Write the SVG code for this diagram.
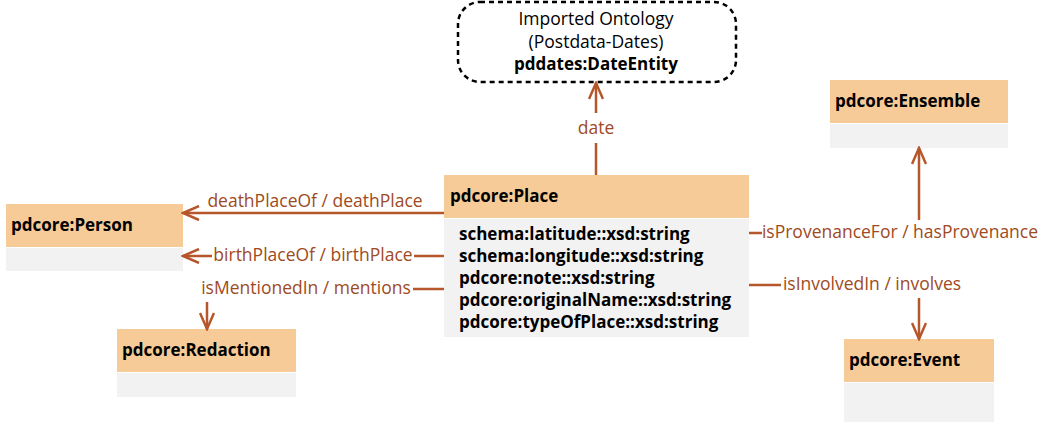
<svg xmlns="http://www.w3.org/2000/svg" width="1048" height="424" viewBox="0 0 1048 424">
<defs>
<style>
.hdr{fill:#F7CB98;}
.body{fill:#F2F2F2;}
.title{font-family:"Open Sans","Noto Sans",sans-serif;font-weight:bold;font-size:17px;fill:#000;}
.attr{font-family:"Open Sans","Noto Sans",sans-serif;font-weight:bold;font-size:17px;fill:#000;}
.lbl{font-family:"Open Sans","Noto Sans",sans-serif;font-size:17.5px;fill:#9E4A22;}
.imp{font-family:"Open Sans","Noto Sans",sans-serif;font-size:17.5px;fill:#000;}
.edge{stroke:#B5562B;stroke-width:2.5;fill:none;}
</style>
<marker id="arr" viewBox="0 0 20 16" refX="18" refY="8" markerWidth="20" markerHeight="16" markerUnits="userSpaceOnUse" orient="auto">
<path d="M2,1 L18,8 L2,15" fill="none" stroke="#B5562B" stroke-width="2.5"/>
</marker>
</defs>
<rect width="1048" height="424" fill="#fff"/>

<g id="imported">
<rect x="458" y="2" width="278" height="80" rx="22" ry="22" fill="#fff" stroke="#000" stroke-width="2.5" stroke-dasharray="5,4"/>
<text class="imp" x="596" y="25" text-anchor="middle">Imported Ontology</text>
<text class="imp" x="596" y="48" text-anchor="middle">(Postdata-Dates)</text>
<text class="title" x="596" y="70" text-anchor="middle">pddates:DateEntity</text>
</g>

<g id="place">
<rect class="hdr" x="444" y="175" width="305" height="43"/>
<rect class="body" x="444" y="219" width="305" height="118"/>
<text class="title" x="450" y="202">pdcore:Place</text>
<text class="attr" x="459" y="240">schema:latitude::xsd:string</text>
<text class="attr" x="459" y="262">schema:longitude::xsd:string</text>
<text class="attr" x="459" y="284">pdcore:note::xsd:string</text>
<text class="attr" x="459" y="306">pdcore:originalName::xsd:string</text>
<text class="attr" x="459" y="328">pdcore:typeOfPlace::xsd:string</text>
</g>

<g id="person">
<rect class="hdr" x="6" y="204" width="177" height="43"/>
<rect class="body" x="6" y="248" width="177" height="23"/>
<text class="title" x="11" y="231">pdcore:Person</text>
</g>

<g id="redaction">
<rect class="hdr" x="117" y="329" width="179" height="43"/>
<rect class="body" x="117" y="373" width="179" height="24"/>
<text class="title" x="122" y="356">pdcore:Redaction</text>
</g>

<g id="ensemble">
<rect class="hdr" x="830" y="80" width="178" height="43"/>
<rect class="body" x="830" y="124" width="178" height="24"/>
<text class="title" x="835" y="107">pdcore:Ensemble</text>
</g>

<g id="event">
<rect class="hdr" x="844" y="339" width="150" height="43"/>
<rect class="body" x="844" y="383" width="150" height="39"/>
<text class="title" x="849" y="366">pdcore:Event</text>
</g>

<g id="connectors">
<path class="edge" d="M596,175 L596,143"/>
<path class="edge" d="M596,113 L596,83" marker-end="url(#arr)"/>
<text class="lbl" x="596" y="134" text-anchor="middle">date</text>

<path class="edge" d="M444,213 L183,213" marker-end="url(#arr)"/>
<text class="lbl" x="315" y="207" text-anchor="middle">deathPlaceOf / deathPlace</text>

<path class="edge" d="M444,256 L414,256"/>
<path class="edge" d="M212,256 L183,256" marker-end="url(#arr)"/>
<text class="lbl" x="313" y="261" text-anchor="middle">birthPlaceOf / birthPlace</text>

<path class="edge" d="M444,289 L413,289"/>
<text class="lbl" x="306" y="294" text-anchor="middle">isMentionedIn / mentions</text>
<path class="edge" d="M207,302 L207,329" marker-end="url(#arr)"/>

<path class="edge" d="M749,233 L762,233"/>
<text class="lbl" x="900" y="238" text-anchor="middle">isProvenanceFor / hasProvenance</text>
<path class="edge" d="M919,220 L919,148" marker-end="url(#arr)"/>

<path class="edge" d="M749,285 L781,285"/>
<text class="lbl" x="872" y="290" text-anchor="middle">isInvolvedIn / involves</text>
<path class="edge" d="M919,298 L919,339" marker-end="url(#arr)"/>
</g>
</svg>
